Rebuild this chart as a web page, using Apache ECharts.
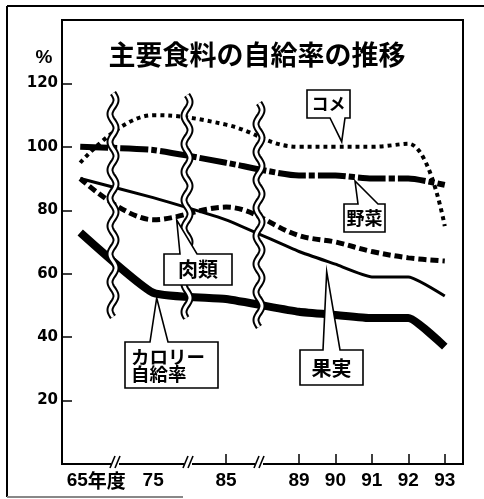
<!DOCTYPE html>
<html><head><meta charset="utf-8">
<script src="https://cdn.jsdelivr.net/npm/echarts@6/dist/echarts.min.js"></script>
<style>html,body{margin:0;padding:0;background:#fff}#c{width:484px;height:499px}</style>
</head><body><div id="c"></div>
<script>
// ---- data ----
const categories = ['65年度', '', '75', '', '85', '', '89', '90', '91', '92', '93'];
const rice       = [95,  null, 110, null, 107, null, 100, 100, 100, 101, 75];
const vegetables = [100, null, 99,  null, 95,  null, 91,  91,  90,  90,  88];
const meat       = [90,  null, 77,  null, 81,  null, 72,  70,  67,  65,  64];
const fruit      = [90,  null, 84,  null, 77,  null, 67,  63,  59,  59,  53];
const calorie    = [73,  null, 54,  null, 52,  null, 48,  47,  46,  46,  37];
const yTicks = [20, 40, 60, 80, 100, 120];
const title = '主要食料の自給率の推移';

const CJK = 'Noto Sans CJK JP';
const chart = echarts.init(document.getElementById('c'), null, {renderer: 'canvas'});

function wave(x, y0, y1, period, amp) {
  const pts = [];
  for (let y = y0; y <= y1; y += 1) {
    pts.push([x + amp * Math.sin((y - y0) / period * 2 * Math.PI), y]);
  }
  return pts;
}
const graphics = [];
// outer frame
graphics.push({type: 'line', shape: {x1: 7, y1: 6, x2: 484, y2: 6}, style: {stroke: '#000', lineWidth: 2}, z: 100});
graphics.push({type: 'line', shape: {x1: 7, y1: 6, x2: 7, y2: 497}, style: {stroke: '#000', lineWidth: 2}, z: 100});
graphics.push({type: 'line', shape: {x1: 7, y1: 497, x2: 183, y2: 497}, style: {stroke: '#888', lineWidth: 2}, z: 100});
// wavy breaks
[[113, 93, 317], [187, 95, 318], [259, 103, 327]].forEach(w => {
  const pts = wave(w[0], w[1], w[2], 28, 3);
  graphics.push({type: 'polyline', shape: {points: pts}, style: {stroke: '#000', lineWidth: 7, fill: null}, z: 100});
  graphics.push({type: 'polyline', shape: {points: pts}, style: {stroke: '#fff', lineWidth: 3, fill: null}, z: 101});
});
// axis break marks
[115, 188, 259].forEach(cx => {
  graphics.push({type: 'rect', shape: {x: cx - 4, y: 460, width: 8, height: 8}, style: {fill: '#fff'}, z: 102});
  graphics.push({type: 'line', shape: {x1: cx - 5, y1: 468, x2: cx, y2: 456}, style: {stroke: '#000', lineWidth: 1.6}, z: 103});
  graphics.push({type: 'line', shape: {x1: cx, y1: 468, x2: cx + 5, y2: 456}, style: {stroke: '#000', lineWidth: 1.6}, z: 103});
});
function callout(points) {
  graphics.push({type: 'polygon', shape: {points: points}, style: {fill: '#fff', stroke: '#000', lineWidth: 1.6}, z: 110});
}
function label(text, x, y, size, align) {
  graphics.push({type: 'text', x: x, y: y, style: {text: text, fill: '#000', font: 'bold ' + size + 'px "' + CJK + '"', textAlign: align || 'center', textVerticalAlign: 'middle'}, z: 111});
}
callout([[307, 90], [350, 90], [350, 118], [345, 118], [341.7, 141.7], [330, 118], [307, 118]]);
label('コメ', 328.5, 104, 17);
callout([[344, 204], [358, 204], [355, 181], [378, 204], [385, 204], [385, 232], [344, 232]]);
label('野菜', 364.5, 218, 18);
callout([[164, 254], [180, 254], [176.7, 220], [197, 254], [232, 254], [232, 285], [164, 285]]);
label('肉類', 198, 269.5, 20);
callout([[125, 342], [150, 342], [156.7, 298], [168, 342], [218, 342], [218, 388], [125, 388]]);
label('カロリー', 131, 357, 18.5, 'left');
label('自給率', 131, 374, 18.5, 'left');
callout([[300, 350], [323, 350], [326.7, 271.7], [340, 350], [363, 350], [363, 385], [300, 385]]);
label('果実', 331.5, 368, 20);
// title and unit
label(title, 257, 55, 27);
graphics.push({type: 'text', x: 44, y: 58, style: {text: '%', fill: '#000', font: 'bold 19px "Liberation Sans"', textAlign: 'center', textVerticalAlign: 'middle'}, z: 111});

function lineSeries(name, data, width, type, smooth) {
  return {
    name: name, type: 'line', data: data, connectNulls: true, symbol: 'none', smooth: smooth,
    lineStyle: {color: '#000', width: width, type: type, cap: 'butt'},
    emphasis: {disabled: true}, silent: true
  };
}

chart.setOption({
  animation: false,
  backgroundColor: '#fff',
  grid: {left: 62, top: 20, width: 401, height: 444, show: true, borderColor: '#000', borderWidth: 2, backgroundColor: 'transparent'},
  xAxis: {
    type: 'category', data: categories, boundaryGap: true,
    axisLine: {lineStyle: {color: '#000', width: 2}},
    axisTick: {show: true, inside: true, length: 10, alignWithLabel: true,
      interval: function (i, v) { return i >= 4 && v !== ''; },
      lineStyle: {color: '#000', width: 1.5}},
    axisLabel: {
      interval: 0, margin: 7, color: '#000', fontFamily: 'Liberation Sans', fontWeight: 'bold', fontSize: 19,
      formatter: function (v) { return v === '65年度' ? '{pad| }{n|65}{u|年度}' : v; },
      rich: {
        pad: {width: 32, fontSize: 19},
        n: {fontFamily: 'Liberation Sans', fontWeight: 'bold', fontSize: 19, color: '#000'},
        u: {fontFamily: CJK, fontWeight: 'bold', fontSize: 19, color: '#000'}
      }
    },
    splitLine: {show: false}
  },
  yAxis: {
    type: 'value', min: 0, max: 140, interval: 20,
    splitLine: {show: false},
    axisLine: {show: true, lineStyle: {color: '#000', width: 2}},
    axisTick: {show: true, inside: true, length: 10, customValues: yTicks, lineStyle: {color: '#000', width: 1.5}},
    axisLabel: {customValues: yTicks, margin: 4, color: '#000', fontFamily: 'DejaVu Sans', fontWeight: 'bold', fontSize: 15}
  },
  series: [
    lineSeries('カロリー自給率', calorie, 8, 'solid', 0.15),
    lineSeries('果実', fruit, 3, 'solid', 0.15),
    lineSeries('肉類', meat, 5, [8, 4], 0.35),
    lineSeries('野菜', vegetables, 6, [28, 3, 6, 3], 0.2),
    lineSeries('コメ', rice, 4, [4, 4], 0.4)
  ],
  graphic: graphics
});
</script>
</body></html>
